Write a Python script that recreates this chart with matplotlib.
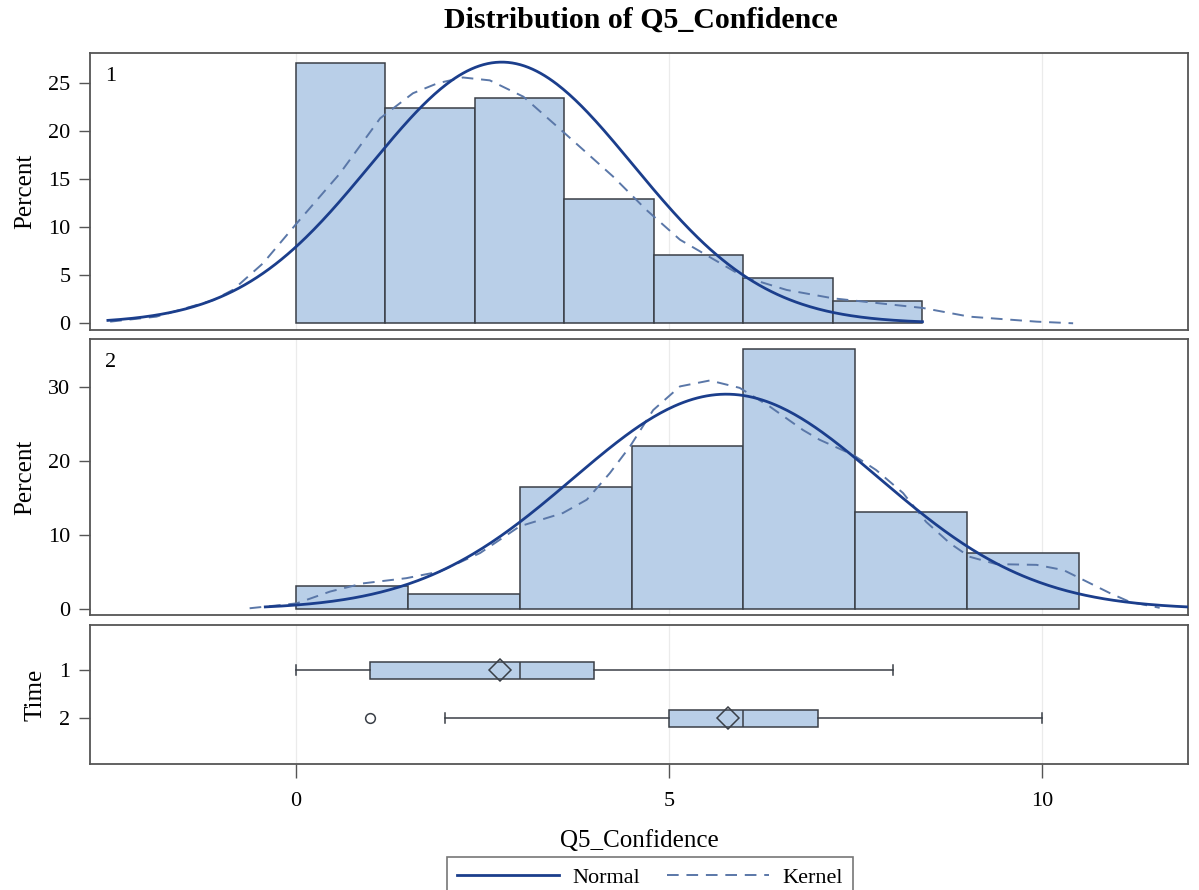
import numpy as np
import matplotlib
matplotlib.use("Agg")
import matplotlib.pyplot as plt
from matplotlib.lines import Line2D

# ---------------- data ----------------
title = "Distribution of Q5_Confidence"
xlabel = "Q5_Confidence"
groups = ["1", "2"]

# Time 1 histogram
t1_bin_left = [0.0, 1.2, 2.4, 3.6, 4.8, 6.0, 7.2]
t1_bin_width = 1.2
t1_percent = [27.1, 22.4, 23.5, 12.9, 7.1, 4.7, 2.3]
t1_mean, t1_sd = 2.76, 1.76
t1_normal_range = (-2.52, 8.4)
t1_kernel_x = [-2.49, -1.87, -1.11, -0.84, -0.44, 0.01, 0.59, 1.13, 1.57, 1.9,
               2.24, 2.6, 3.05, 3.58, 4.25, 4.7, 5.15, 5.46, 6.0, 6.58, 7.2,
               8.4, 9.03, 9.93, 10.42]
t1_kernel_y = [0.17, 0.69, 2.4, 3.5, 6.25, 10.4, 15.6, 21.35, 23.96, 25.0,
               25.6, 25.3, 23.6, 19.96, 15.3, 11.8, 8.7, 7.3, 4.85, 3.47, 2.6,
               1.6, 0.69, 0.17, 0.0]

# Time 2 histogram
t2_bin_left = [0.0, 1.5, 3.0, 4.5, 6.0, 7.5, 9.0]
t2_bin_width = 1.5
t2_percent = [3.15, 2.1, 16.5, 22.0, 35.2, 13.15, 7.6]
t2_mean, t2_sd = 5.77, 2.06
t2_normal_range = (-0.41, 11.95)
t2_kernel_x = [-0.62, 0.01, 0.46, 0.9, 1.48, 1.93, 2.47, 3.0, 3.58, 3.9, 4.21,
               4.48, 4.79, 5.15, 5.55, 5.95, 6.35, 6.8, 7.02, 7.47, 7.78, 8.14,
               8.45, 8.77, 9.03, 9.39, 9.93, 10.29, 10.55, 10.91, 11.18, 11.58]
t2_kernel_y = [0.14, 0.8, 2.4, 3.5, 4.2, 5.1, 7.6, 11.2, 13.0, 14.8, 18.4,
               22.0, 26.9, 30.1, 30.9, 29.9, 27.4, 24.2, 22.9, 20.85, 18.8, 15.7,
               11.8, 8.9, 7.1, 6.1, 6.0, 5.3, 4.0, 2.2, 1.0, 0.2]

# Box plot statistics (Time 1, Time 2)
box_min = [0, 2]
box_q1 = [1, 5]
box_median = [3, 6]
box_q3 = [4, 7]
box_max = [8, 10]
box_mean = [2.73, 5.79]
box_outliers = [[], [1]]

# ---------------- style ----------------
FONT = ["Liberation Serif", "DejaVu Serif"]
plt.rcParams["font.family"] = FONT
BAR_FC = "#b9cfe8"
BAR_EC = "#3a3f47"
NORMAL_C = "#1b3e8c"
KERNEL_C = "#5a77a8"
FRAME_C = "#555555"
GRID_C = "#ebebeb"
TICK_FS = 16
LABEL_FS = 18

fig = plt.figure(figsize=(11.99, 8.90), dpi=100)
L, R = 90 / 1199, 1188 / 1199
def fy(px):
    return 1 - px / 890

ax1 = fig.add_axes([L, fy(330), R - L, fy(53) - fy(330)])
ax2 = fig.add_axes([L, fy(615), R - L, fy(339) - fy(615)])
ax3 = fig.add_axes([L, fy(764), R - L, fy(625) - fy(764)])

xlim = (-2.76, 11.96)
for ax in (ax1, ax2, ax3):
    ax.set_xlim(*xlim)
    for s in ax.spines.values():
        s.set_color(FRAME_C)
        s.set_linewidth(1.3)
    for gx in (0, 5, 10):
        ax.axvline(gx, color=GRID_C, lw=0.9, zorder=0)
    ax.tick_params(axis="y", direction="out", length=8, width=1, color=FRAME_C,
                   labelsize=TICK_FS, pad=6)

def hist_panel(ax, left, width, pct, mean, sd, nrange, kx, ky, ylim, yticks, label):
    ax.bar(left, pct, width=width, align="edge", color=BAR_FC, edgecolor=BAR_EC,
           linewidth=1.1, zorder=2)
    xs = np.linspace(nrange[0], nrange[1], 400)
    dens = 100 * width * np.exp(-0.5 * ((xs - mean) / sd) ** 2) / (sd * np.sqrt(2 * np.pi))
    ax.plot(xs, dens, color=NORMAL_C, lw=2.0, zorder=4)
    ax.plot(kx, ky, color=KERNEL_C, lw=1.4, ls=(0, (6, 4)), zorder=3)
    ax.set_ylim(*ylim)
    ax.set_yticks(yticks)
    ax.set_xticks([])
    ax.set_ylabel("Percent", fontsize=LABEL_FS, labelpad=9)
    ax.text(0.014, 0.915, label, transform=ax.transAxes, fontsize=TICK_FS,
            ha="left", va="center")

hist_panel(ax1, t1_bin_left, t1_bin_width, t1_percent, t1_mean, t1_sd,
           t1_normal_range, t1_kernel_x, t1_kernel_y, (-0.7, 28.15),
           [0, 5, 10, 15, 20, 25], groups[0])
hist_panel(ax2, t2_bin_left, t2_bin_width, t2_percent, t2_mean, t2_sd,
           t2_normal_range, t2_kernel_x, t2_kernel_y, (-0.77, 36.5),
           [0, 10, 20, 30], groups[1])

# ---------------- box plots ----------------
stats = []
for i in range(len(groups)):
    stats.append(dict(med=box_median[i], q1=box_q1[i], q3=box_q3[i],
                      whislo=box_min[i], whishi=box_max[i], mean=box_mean[i],
                      fliers=box_outliers[i], label=groups[i]))
ax3.bxp(stats, positions=[1, 2], widths=0.36, orientation="horizontal",
        patch_artist=True, showmeans=True, capwidths=0.2,
        boxprops=dict(facecolor=BAR_FC, edgecolor=BAR_EC, linewidth=1.1),
        medianprops=dict(color=BAR_EC, linewidth=1.1),
        whiskerprops=dict(color=BAR_EC, linewidth=1.1),
        capprops=dict(color=BAR_EC, linewidth=1.1),
        meanprops=dict(marker="D", markersize=11, markerfacecolor="none",
                       markeredgecolor=BAR_EC, markeredgewidth=1.1),
        flierprops=dict(marker="o", markersize=7, markerfacecolor="none",
                        markeredgecolor=BAR_EC, markeredgewidth=1.1))
ax3.set_ylim(2.95, 0.06)
ax3.set_yticks([1, 2])
ax3.set_yticklabels(groups)
ax3.set_ylabel("Time", fontsize=LABEL_FS, labelpad=9)
ax3.set_xticks([0, 5, 10])
ax3.set_xticklabels(["0", "5", "10"])
ax3.set_xlim(*xlim)
ax3.tick_params(axis="x", direction="out", length=10, width=1, color=FRAME_C,
                labelsize=TICK_FS, pad=10)
ax3.set_xlabel(xlabel, fontsize=LABEL_FS, labelpad=14)

fig.text(641 / 1199, fy(20), title, ha="center", va="center",
         fontsize=21.5, fontweight="bold")

handles = [Line2D([], [], color=NORMAL_C, lw=2.0),
           Line2D([], [], color=KERNEL_C, lw=1.4, ls=(0, (6, 4)))]
leg = fig.legend(handles, ["Normal", "Kernel"], loc="upper center",
                 bbox_to_anchor=(650 / 1199, fy(857)), ncol=2, fontsize=16,
                 frameon=True, fancybox=False, handlelength=4.6,
                 columnspacing=1.2, handletextpad=0.6, borderpad=0.45,
                 borderaxespad=0.0)
leg.get_frame().set_edgecolor(FRAME_C)
leg.get_frame().set_linewidth(1.2)

fig.savefig("out.png", dpi=100)
